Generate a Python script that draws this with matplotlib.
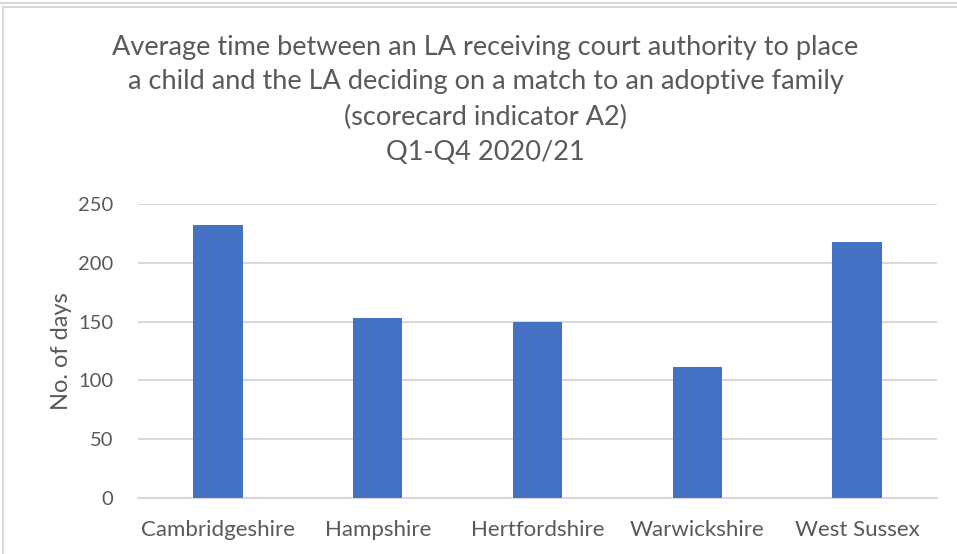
import matplotlib
matplotlib.use("Agg")
import matplotlib.pyplot as plt
from matplotlib.patches import Rectangle
from matplotlib.lines import Line2D

categories = ["Cambridgeshire", "Hampshire", "Hertfordshire", "Warwickshire", "West Sussex"]
values = [232, 153, 150, 111, 218]
yticks = [0, 50, 100, 150, 200, 250]
title_lines = [
    "Average time between an LA receiving court authority to place",
    "a child and the LA deciding on a match to an adoptive family",
    "(scorecard indicator A2)",
    "Q1-Q4 2020/21",
]
ylabel = "No. of days"

W, H = 957, 554
FONT = "Lato"
TXT = "#595959"
fig = plt.figure(figsize=(W / 100, H / 100), dpi=100)
fig.patch.set_facecolor("white")

# chart borders
fig.add_artist(Line2D([0, 1], [1 - 3 / H, 1 - 3 / H], color="#D9D9D9", lw=1.5))
fig.add_artist(Rectangle((3 / W, -0.01), 1.2, 1 - 7 / H + 0.01, transform=fig.transFigure,
                         fill=False, edgecolor="#D9D9D9", lw=1.5))

ax = fig.add_axes([138 / W, 1 - 498 / H, (937 - 138) / W, (498 - 204) / H])
x = list(range(len(categories)))
ax.bar(x, values, width=0.31, color="#4472C4", zorder=3)
ax.set_xlim(-0.5, len(categories) - 0.5)
ax.set_ylim(0, 250)
ax.set_yticks(yticks)
ax.set_xticks(x)
ax.set_xticklabels(categories)
ax.grid(axis="y", color="#D9D9D9", lw=1.5, zorder=0)
for s in ["top", "right", "left"]:
    ax.spines[s].set_visible(False)
ax.spines["bottom"].set_color("#D9D9D9")
ax.spines["bottom"].set_linewidth(1.5)
ax.tick_params(axis="x", length=0, colors=TXT, labelsize=16, pad=16)
ax.tick_params(axis="y", length=0, colors=TXT, labelsize=14.5, pad=18)
for lab in ax.get_xticklabels() + ax.get_yticklabels():
    lab.set_fontfamily(FONT)
ax.set_ylabel(ylabel, fontfamily=FONT, fontsize=17, color=TXT, labelpad=4)

# title
renderer = fig.canvas.get_renderer()
t0 = fig.text(0.5, 0.5, title_lines[0], fontfamily=FONT, fontsize=18)
w0 = t0.get_window_extent(renderer).width
t0.remove()
fs = 18 * 745 / w0
centers = [47, 82, 117, 152]
for line, cy in zip(title_lines, centers):
    fig.text(485.5 / W, 1 - cy / H, line, ha="center", va="center",
             fontfamily=FONT, fontsize=fs, color=TXT)

fig.savefig("out.png", dpi=100, facecolor="white")
